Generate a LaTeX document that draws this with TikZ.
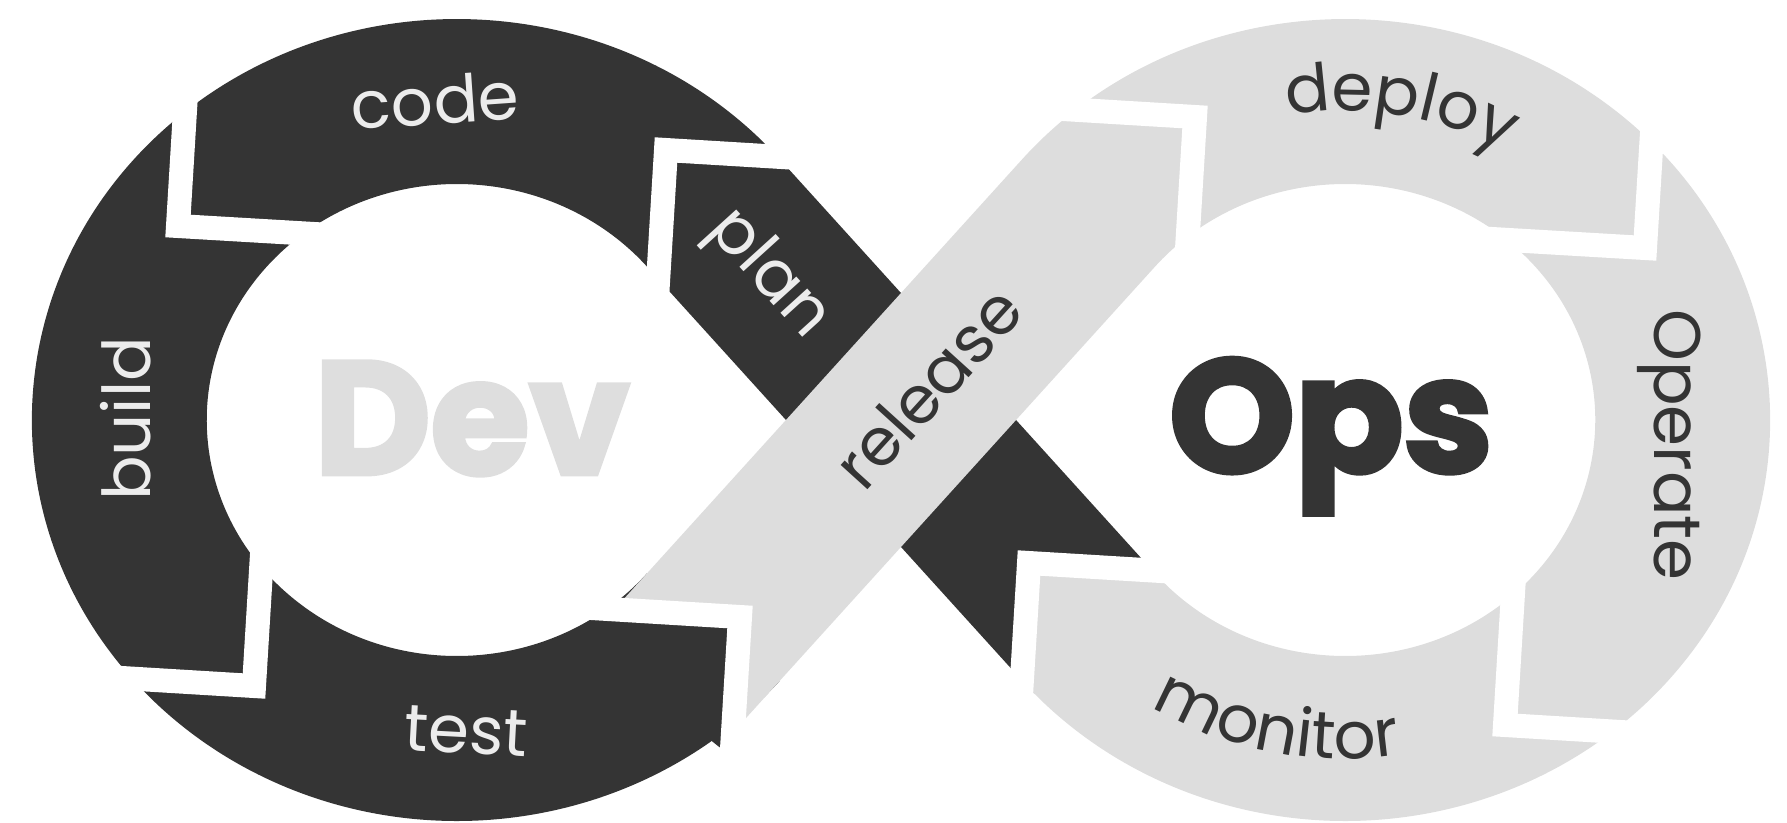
\documentclass[tikz,border=0pt]{standalone}
\usepackage{fontspec}
\usetikzlibrary{decorations.text}
\setmainfont{Poppins}
\newfontfamily\heavyfont{Poppins}[BoldFeatures={FakeBold=3}]
\definecolor{segdark}{RGB}{52,52,52}
\definecolor{seglight}{RGB}{221,221,221}
\definecolor{txtlight}{RGB}{236,236,236}
\definecolor{devgray}{RGB}{222,222,222}
\begin{document}
\begin{tikzpicture}[x=1pt,y=-1pt,
  design/.style={shift={(901,420)},x=1pt,y=1pt,xscale=1.06},
  gap/.style={draw=white,line width=24pt,line join=miter,line cap=butt},
  lbl/.style={inner sep=0pt,font=\fontsize{66}{66}\selectfont},
  ondark/.style={lbl,text=txtlight},
  onlight/.style={lbl,text=segdark},
  arctext/.style={decorate,decoration={text along path,text align=center,text color=segdark,text={|\fontsize{66}{66}\selectfont|#1}}},
  big/.style={inner sep=0pt,font=\heavyfont\bfseries\fontsize{160}{160}\selectfont,anchor=base}]
\useasboundingbox (0,0) rectangle (1787,822);
% ---- dark loop: left ring + plan band (monitor tip area cut away)
\begin{scope}
\clip (1029,563) -- (1002.3,1000) -- (-200,1000) -- (-200,-200) -- (2000,-200) -- (2000,622.4) -- cycle;
\begin{scope}[design]
\fill[segdark] (-114.18,260.56) arc[start angle=40.53,end angle=319.47,radius=401]
  -- (-239.61,-153.35) arc[start angle=319.47,end angle=40.53,radius=236]
  -- (114.18,-260.56) -- (239.61,-153.35) -- cycle;
\end{scope}
\end{scope}
% test tip: straight continuation of the band, dark
\begin{scope}
\clip (740,617) -- (-100,565.7) -- (-100,1000) -- (716.6,1000) -- cycle;
\fill[segdark] (658.90,560.23) -- (791.84,667.45) -- (719.52,747.26) -- (586.57,640.04) -- cycle;
\end{scope}
% ---- light loop: release band + right ring (test tip area cut away)
\begin{scope}
\clip (740,617) -- (716.6,1000) -- (2000,1000) -- (2000,-200) -- (-100,-200) -- (-100,565.7) -- cycle;
\begin{scope}[design]
\fill[seglight] (-296.63,-220.04) -- (114.18,260.56) arc[start angle=139.47,end angle=-139.47,radius=401]
  -- (239.61,-153.35) arc[start angle=-139.47,end angle=139.47,radius=236]
  -- (-171.21,-327.26) -- cycle;
\end{scope}
\end{scope}
% monitor tip lies on the straight band, light
\begin{scope}
\clip (1029,563) -- (2000,622.4) -- (2000,1000) -- (1002.3,1000) -- cycle;
\fill[seglight] (1091.45,503.22) -- (1167.22,586.83) -- (1034.27,694.05) -- (958.51,610.44) -- cycle;
\end{scope}
% ---- white chevron gaps
\draw[gap] (831,160) -- (666,150) -- (656,315);
\draw[gap] (188,61) -- (178,226) -- (348,236);
\draw[gap] (89,676) -- (254,686) -- (264,521);
\draw[gap] (575,607) -- (740,617) -- (730,782);
\draw[gap] (1030,107) -- (1195,117) -- (1185,282);
\draw[gap] (1655,83) -- (1645,248) -- (1475,238);
\draw[gap] (1515,560) -- (1505,725) -- (1670,735);
\draw[gap] (1194,573) -- (1029,563) -- (1019,728);
% ---- labels
\node[ondark,rotate=4] (code) at (435,100) {code};
\node[ondark,rotate=90] (build) at (126,419) {build};
\node[ondark,rotate=-3] (test) at (466,731) {test};
\node[ondark,rotate=-47.8] (plan) at (768,275) {plan};
\node[onlight,rotate=47.8] (release) at (928,387) {release};
\node[onlight,rotate=-90] (operate) at (1669,445) {Operate};
\path[arctext=deploy] (1172.3,157.4) arc[start angle=122,end angle=38,x radius=325.4pt,y radius=307pt];
\path[arctext=monitor] (1058.1,624.0) arc[start angle=217,end angle=299,x radius=359.3pt,y radius=339pt];
\node[big,text=devgray] (dev) at (472,474) {Dev};
\node[big,text=segdark] (ops) at (1331,472) {Ops};
\end{tikzpicture}
\end{document}
